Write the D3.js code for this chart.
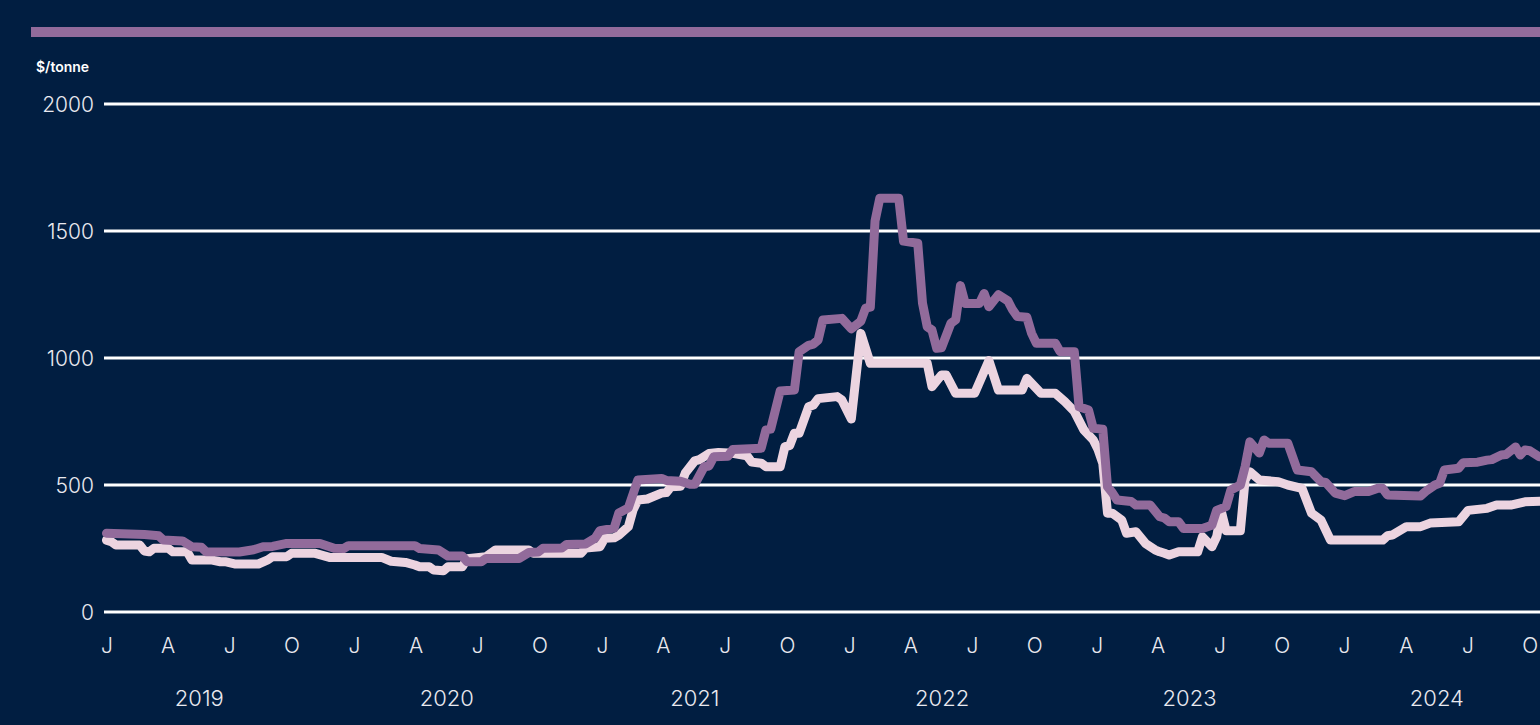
<!DOCTYPE html>
<html lang="en">
<head>
  <meta charset="UTF-8">
  <title>Price chart</title>
  <script src="https://cdn.jsdelivr.net/npm/d3@7"></script>
  <style>
    html, body {
      margin: 0;
      padding: 0;
      background: #011e41;
    }
    svg { display: block; }
    text { font-family: Inter, "Noto Sans", sans-serif; fill: #e9e9ef; }
  </style>
</head>
<body>
  <div id="chart"></div>
  <script>
    // weekly observations, week 0 = first week of Jan 2019, values in $/tonne
    const purpleWeeks = [0, 8, 11, 12, 16, 18, 20, 21, 28, 31, 33, 35, 38, 45, 48, 50, 51, 65, 66, 70, 72, 75, 76, 79, 80, 87, 89, 91, 92, 96, 97, 101, 103, 104, 107, 108, 110, 112, 117, 118, 121, 123, 124, 126, 127, 128, 131, 132, 138, 139, 140, 142, 145, 146, 148, 149, 150, 151, 155, 157, 159, 160, 161, 162, 163, 167, 168, 171, 172, 173, 174, 175, 176, 178, 179, 180, 181, 184, 185, 186, 188, 190, 191, 192, 194, 195, 196, 200, 201, 204, 205, 207, 208, 210, 211, 212, 213, 216, 217, 220, 222, 223, 224, 226, 227, 231, 233, 234, 236, 237, 239, 240, 241, 243, 244, 245, 249, 251, 254, 256, 257, 259, 261, 263, 266, 268, 269, 270, 277, 278, 280, 281, 282, 285, 286, 289, 291, 292, 294, 295, 297, 298, 299, 300, 302, 303];
    const purpleValues = [310, 305, 300, 283, 280, 257, 255, 237, 236, 245, 257, 258, 270, 270, 251, 250, 261, 261, 250, 244, 220, 220, 198, 198, 211, 211, 234, 236, 251, 252, 266, 268, 291, 320, 330, 390, 410, 520, 526, 518, 515, 503, 503, 572, 575, 611, 613, 640, 645, 717, 720, 870, 874, 1025, 1050, 1055, 1071, 1150, 1156, 1115, 1145, 1196, 1200, 1540, 1629, 1629, 1460, 1452, 1216, 1123, 1110, 1038, 1040, 1137, 1150, 1285, 1215, 1215, 1254, 1202, 1249, 1225, 1189, 1163, 1160, 1097, 1058, 1058, 1025, 1025, 808, 795, 723, 720, 493, 470, 441, 435, 421, 421, 375, 370, 355, 355, 329, 329, 342, 400, 415, 480, 500, 572, 670, 626, 677, 664, 664, 559, 552, 513, 510, 468, 458, 474, 474, 487, 487, 461, 457, 474, 500, 507, 559, 566, 588, 590, 598, 600, 618, 620, 650, 618, 638, 635, 611, 611];

    const pinkWeeks = [0, 1, 2, 7, 8, 9, 10, 13, 14, 17, 18, 22, 24, 25, 27, 32, 34, 35, 38, 39, 44, 47, 58, 60, 63, 65, 66, 68, 69, 71, 72, 75, 76, 80, 82, 89, 90, 100, 101, 104, 105, 107, 108, 110, 111, 112, 114, 117, 118, 119, 121, 122, 124, 125, 127, 129, 132, 135, 136, 138, 139, 142, 143, 144, 145, 146, 148, 149, 150, 154, 155, 157, 159, 161, 173, 174, 176, 177, 179, 183, 186, 188, 193, 194, 197, 200, 202, 204, 206, 208, 209, 210, 211, 212, 214, 215, 217, 219, 221, 222, 223, 224, 226, 230, 231, 233, 234, 235, 236, 239, 240, 241, 243, 247, 249, 252, 254, 256, 258, 269, 270, 271, 274, 277, 279, 285, 287, 291, 293, 296, 299, 303];
    const pinkValues = [283, 277, 264, 264, 240, 237, 251, 251, 237, 237, 205, 205, 198, 198, 189, 189, 205, 218, 218, 231, 231, 215, 215, 200, 195, 185, 178, 178, 165, 162, 178, 178, 210, 218, 244, 244, 231, 231, 252, 257, 290, 292, 303, 336, 402, 441, 445, 468, 470, 493, 495, 547, 595, 600, 624, 628, 625, 615, 590, 586, 572, 572, 651, 655, 704, 704, 808, 815, 840, 848, 835, 760, 1097, 979, 979, 887, 933, 933, 861, 861, 990, 874, 874, 920, 861, 861, 828, 790, 717, 677, 640, 586, 389, 389, 362, 310, 316, 270, 245, 237, 231, 224, 237, 237, 296, 257, 296, 395, 320, 320, 520, 552, 520, 513, 500, 487, 389, 362, 283, 283, 300, 303, 336, 336, 350, 355, 400, 408, 421, 421, 434, 436];

    const yTicks = [0, 500, 1000, 1500, 2000];
    const years = [2019, 2020, 2021, 2022, 2023, 2024];
    const monthLetters = ['J', 'F', 'M', 'A', 'M', 'J', 'J', 'A', 'S', 'O', 'N', 'D'];

    const width = 1540, height = 725;
    const start = new Date(2019, 0, 1);

    const svg = d3.select('#chart').append('svg')
      .attr('width', width)
      .attr('height', height);

    svg.append('rect')
      .attr('width', width).attr('height', height)
      .attr('fill', '#011e41');

    // header rule
    svg.append('rect')
      .attr('x', 31).attr('y', 27)
      .attr('width', width - 31).attr('height', 10)
      .attr('fill', '#926b9b');

    svg.append('text')
      .attr('x', 36).attr('y', 72)
      .style('font-size', '14px')
      .style('font-weight', 600)
      .style('fill', '#ffffff')
      .text('$/tonne');

    const x = d3.scaleTime()
      .domain([start, new Date(2025, 0, 1)])
      .range([106.5, 106.5 + 6 * 247.6]);

    const y = d3.scaleLinear()
      .domain([0, 2000])
      .range([612, 104]);

    // gridlines + y labels
    svg.append('g')
      .selectAll('line')
      .data(yTicks)
      .join('line')
      .attr('x1', 104).attr('x2', width)
      .attr('y1', d => y(d)).attr('y2', d => y(d))
      .attr('stroke', '#ffffff')
      .attr('stroke-width', 3);

    svg.append('g')
      .selectAll('text')
      .data(yTicks)
      .join('text')
      .attr('x', 94)
      .attr('y', d => y(d))
      .attr('dy', '0.36em')
      .attr('text-anchor', 'end')
      .style('font-size', '21px')
      .style('font-weight', 300)
      .text(d => d);

    // month axis
    const monthTicks = d3.timeMonth.every(3).range(start, new Date(2024, 10, 1));
    const xAxis = d3.axisBottom(x)
      .tickValues(monthTicks)
      .tickSize(0)
      .tickPadding(26)
      .tickFormat(d => monthLetters[d.getMonth()]);

    const ax = svg.append('g')
      .attr('transform', 'translate(0,612)')
      .call(xAxis);
    ax.select('.domain').remove();
    ax.selectAll('text')
      .attr('fill', null)
      .style('font-size', '21px')
      .style('font-weight', 300)
      .style('font-family', 'Inter, "Noto Sans", sans-serif');

    svg.append('g')
      .selectAll('text')
      .data(years)
      .join('text')
      .attr('x', d => x(d3.timeDay.offset(new Date(d, 0, 1), 137)))
      .attr('y', 706)
      .attr('text-anchor', 'middle')
      .style('font-size', '22px')
      .style('font-weight', 300)
      .text(d => d);

    // series
    const line = d3.line()
      .x(d => x(d3.timeDay.offset(start, d[0] * 7)))
      .y(d => y(d[1]));

    const pink = d3.zip(pinkWeeks, pinkValues);
    const purple = d3.zip(purpleWeeks, purpleValues);

    svg.append('path')
      .datum(pink)
      .attr('d', line)
      .attr('fill', 'none')
      .attr('stroke', '#ecd4e0')
      .attr('stroke-width', 9)
      .attr('stroke-linejoin', 'round')
      .attr('stroke-linecap', 'round');

    svg.append('path')
      .datum(purple)
      .attr('d', line)
      .attr('fill', 'none')
      .attr('stroke', '#926b9b')
      .attr('stroke-width', 9)
      .attr('stroke-linejoin', 'round')
      .attr('stroke-linecap', 'round');
  </script>
</body>
</html>
